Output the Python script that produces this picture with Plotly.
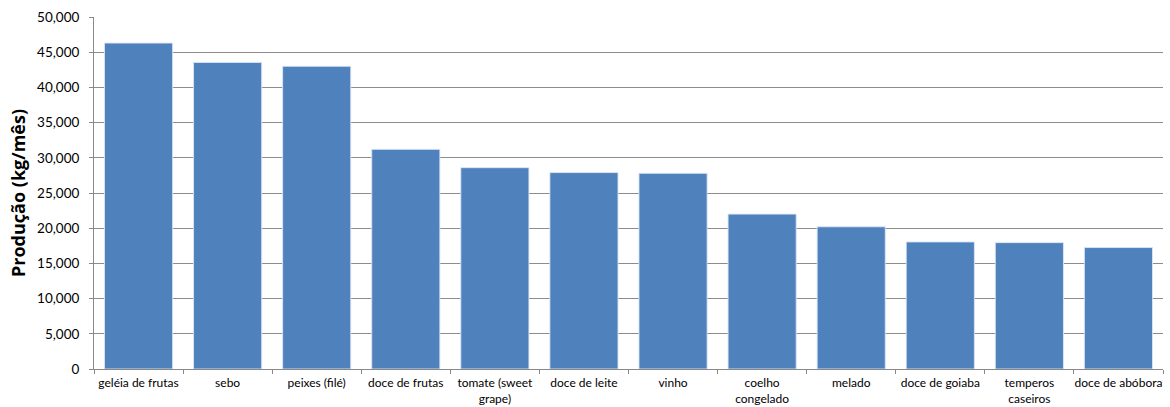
import plotly.graph_objects as go

# Produtos e produção mensal (kg/mês)
produtos = [
    "geléia de frutas", "sebo", "peixes (filé)", "doce de frutas",
    "tomate (sweet<br>grape)", "doce de leite", "vinho", "coelho<br>congelado",
    "melado", "doce de goiaba", "temperos<br>caseiros", "doce de abóbora",
]
producao = [46300, 43550, 43000, 31200, 28600, 27900, 27800, 22000,
            20200, 18050, 17950, 17250]

y_ticks = [0, 5000, 10000, 15000, 20000, 25000, 30000, 35000, 40000, 45000, 50000]
y_tick_labels = ["0", "5,000", "10,000", "15,000", "20,000", "25,000", "30,000",
                 "35,000", "40,000", "45,000", "50,000"]

fig = go.Figure(
    go.Bar(
        x=produtos,
        y=producao,
        marker=dict(color="#4F81BD", line=dict(color="rgba(220,230,245,0.9)", width=1)),
    )
)

font_family = "Lato, 'Open Sans', 'DejaVu Sans', sans-serif"

fig.update_layout(
    width=1170,
    height=407,
    margin=dict(l=94, r=7, t=17, b=38),
    paper_bgcolor="white",
    plot_bgcolor="white",
    bargap=0.235,
    showlegend=False,
    font=dict(family=font_family, color="#000000"),
)

fig.update_xaxes(
    automargin=False,
    showgrid=False,
    showline=True,
    linecolor="#888888",
    linewidth=1,
    ticks="outside",
    tickson="boundaries",
    ticklen=4,
    tickcolor="#888888",
    tickangle=0,
    ticklabelstandoff=3,
    tickfont=dict(size=12, family=font_family),
)

fig.update_yaxes(
    automargin=False,
    range=[0, 50000],
    tickvals=y_ticks,
    ticktext=y_tick_labels,
    showgrid=True,
    gridcolor="#8c8c8c",
    gridwidth=1,
    showline=True,
    linecolor="#888888",
    linewidth=1,
    ticks="outside",
    ticklen=4,
    tickcolor="#888888",
    ticklabelstandoff=7,
    tickfont=dict(size=13.5, family=font_family),
    zeroline=False,
    title=dict(text="<b>Produção (kg/mês)</b>",
               font=dict(size=18, family="'Open Sans', Lato, sans-serif"), standoff=6),
)

fig.write_html("out.html")
